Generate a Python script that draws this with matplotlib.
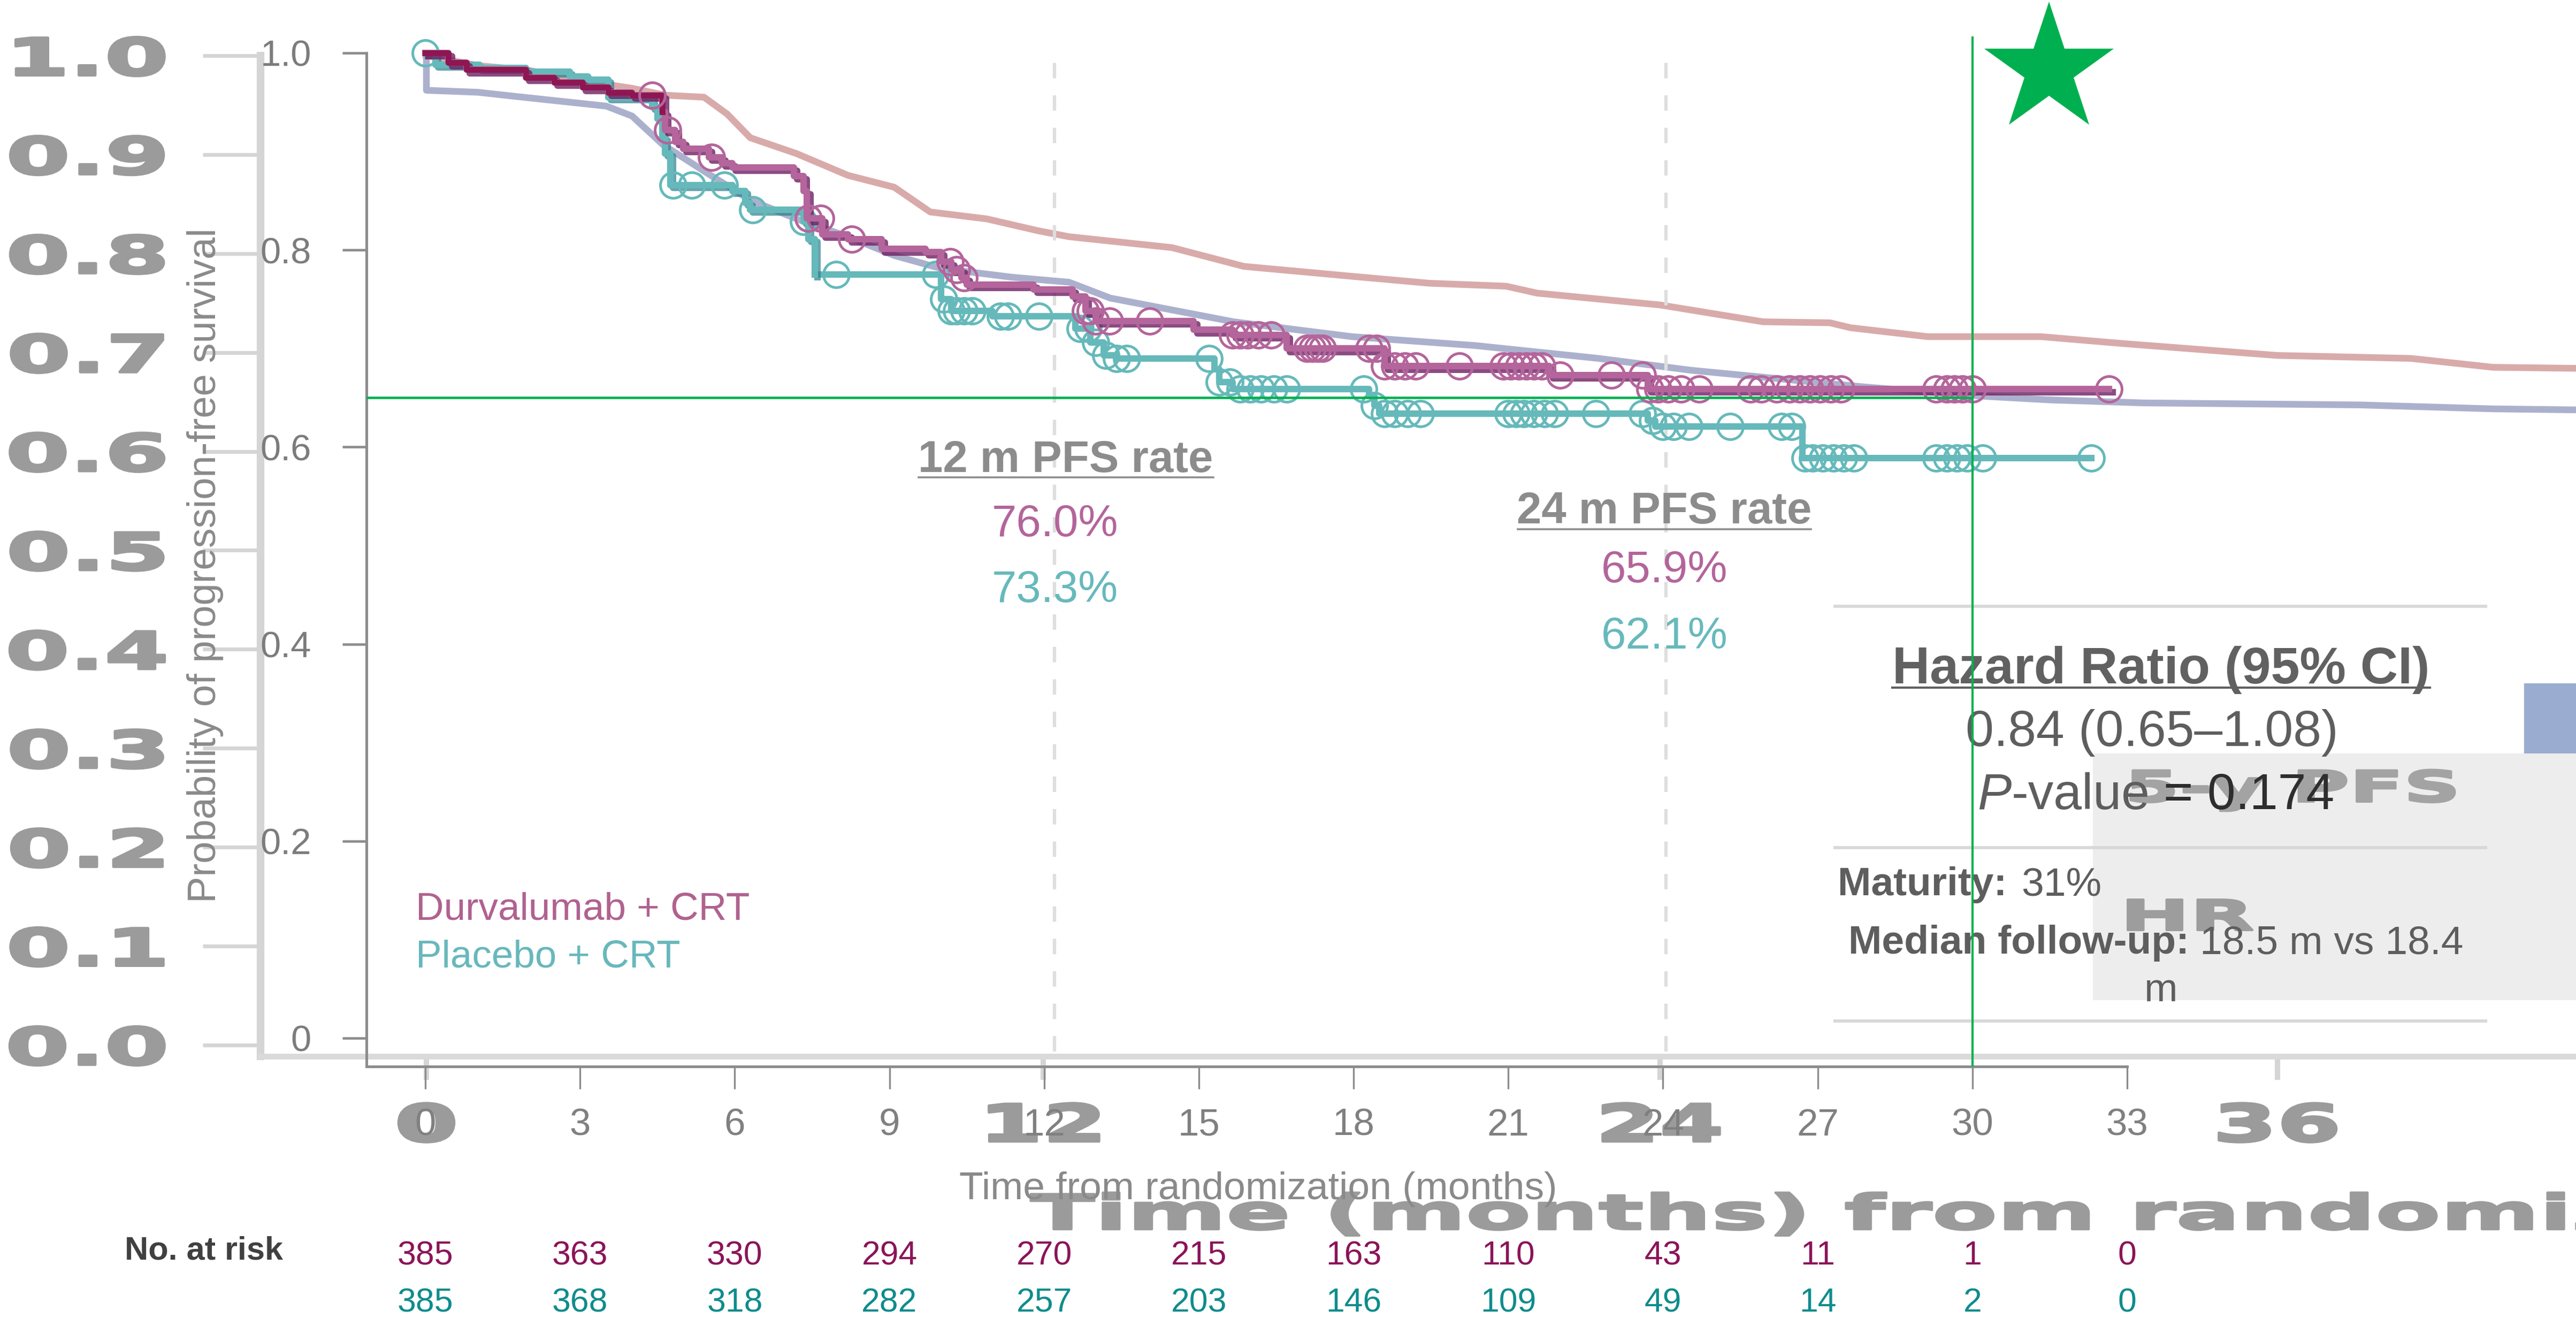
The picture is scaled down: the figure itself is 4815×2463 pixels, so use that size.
import numpy as np
import matplotlib
matplotlib.use("Agg")
import matplotlib.pyplot as plt
from matplotlib.lines import Line2D
from matplotlib.patches import Rectangle
from matplotlib.patheffects import AbstractPathEffect, SimpleLineShadow, Normal
from matplotlib.transforms import Affine2D, blended_transform_factory

W, H, DPI = 4815, 2463, 300

# Kaplan-Meier steps: time (months) and survival level after each step
dur_t = [0, 0.45, 0.8, 1.95, 2.5, 3.05, 3.55, 4.0, 4.6, 4.65, 4.85, 5.0, 5.5, 5.75,
         5.95, 7.15, 7.33, 7.4, 7.7, 8.2, 8.85, 9.7, 10.0, 10.2, 10.4, 10.5, 11.8,
         12.55, 12.8, 13.0, 14.9, 15.65, 16.7, 18.6, 21.8, 23.7, 32.65]
dur_s = [1.0, 0.990, 0.983, 0.975, 0.970, 0.965, 0.960, 0.957, 0.940, 0.922, 0.910,
         0.903, 0.894, 0.888, 0.884, 0.875, 0.860, 0.832, 0.816, 0.811, 0.801, 0.798,
         0.788, 0.780, 0.772, 0.765, 0.760, 0.753, 0.738, 0.728, 0.719, 0.714, 0.700,
         0.682, 0.673, 0.659, 0.659]
pla_t = [0, 0.2, 1.05, 1.95, 2.8, 3.15, 3.55, 4.4, 4.5, 4.6, 4.65, 4.75, 5.95, 6.2,
         6.3, 7.33, 7.43, 7.55, 10.0, 10.2, 11.0, 12.6, 12.9, 13.15, 13.4, 15.3, 15.4,
         15.65, 18.3, 18.4, 18.5, 23.7, 23.85, 26.7, 32.3]
pla_s = [1.0, 0.988, 0.985, 0.981, 0.976, 0.973, 0.955, 0.945, 0.933, 0.914, 0.898,
         0.866, 0.860, 0.848, 0.841, 0.829, 0.811, 0.775, 0.750, 0.738, 0.733, 0.720,
         0.706, 0.693, 0.690, 0.679, 0.666, 0.659, 0.652, 0.642, 0.634, 0.627, 0.621,
         0.589, 0.589]

# censoring times
dur_cens = [4.4, 4.7, 5.55, 7.43, 7.67, 8.27, 10.18, 10.3, 10.45, 12.8, 12.9, 13.0,
            13.27, 14.05, 15.65, 15.8, 15.95, 16.15, 16.4, 17.1, 17.2, 17.3, 17.4,
            18.3, 18.45, 18.6, 18.8, 19.0, 19.2, 20.05, 20.9, 21.05, 21.2, 21.35,
            21.5, 21.65, 22.0, 23.0, 23.6, 23.75, 23.9, 24.1, 24.35, 24.7, 25.7,
            25.9, 26.2, 26.45, 26.65, 26.85, 27.05, 27.25, 27.45, 29.3, 29.5, 29.65,
            29.8, 30.0, 32.65]
pla_cens = [0.0, 4.8, 5.17, 5.8, 6.35, 7.33, 7.97, 9.9, 10.05, 10.2, 10.3, 10.45,
            10.6, 11.15, 11.3, 11.9, 12.7, 12.85, 13.0, 13.2, 13.4, 13.6, 15.2, 15.4,
            15.6, 15.8, 16.0, 16.2, 16.45, 16.7, 18.2, 18.4, 18.6, 18.8, 19.05, 19.3,
            21.0, 21.15, 21.3, 21.5, 21.7, 21.9, 22.7, 23.6, 23.8, 24.0, 24.2, 24.5,
            25.3, 26.3, 26.5, 26.75, 26.9, 27.1, 27.3, 27.5, 27.7, 29.3, 29.5, 29.7,
            29.9, 30.2, 32.3]

months = list(range(0, 34, 3))
dur_risk = [385, 363, 330, 294, 270, 215, 163, 110, 43, 11, 1, 0]
pla_risk = [385, 368, 318, 282, 257, 203, 146, 109, 49, 14, 2, 0]

rate_12 = (76.0, 73.3)
rate_24 = (65.9, 62.1)
hr_label = "0.84 (0.65\u20131.08)"
p_value = "0.174"
maturity = "31%"
follow_up = ("18.5 m vs 18.4", "m")

# curves of the longer-term analysis underneath
old_a_t = [0, 1, 2, 3, 4, 4.65, 5.4, 5.85, 6.3, 7.2, 8.2, 9.1, 9.8, 10.9, 11.9, 12.5,
           14.5, 15.9, 18.0, 19.5, 21.0, 21.6, 24.0, 26.0, 27.3, 27.7, 29.2, 31.4,
           33.0, 36.0, 38.6, 40.2, 41.8]
old_a_s = [1.0, 0.99, 0.985, 0.975, 0.967, 0.96, 0.958, 0.941, 0.917, 0.901, 0.879,
           0.867, 0.842, 0.835, 0.823, 0.817, 0.806, 0.787, 0.777, 0.770, 0.767,
           0.760, 0.748, 0.731, 0.730, 0.725, 0.716, 0.716, 0.709, 0.697, 0.694,
           0.685, 0.684]
old_b_t = [0, 0, 1.0, 1.7, 2.6, 3.5, 4.0, 4.6, 5.5, 6.3, 7.2, 8.2, 9.1, 10.0, 11.4,
           12.5, 13.3, 15.7, 18.0, 20.4, 22.8, 24.6, 26.0, 28.0, 30.2, 31.6, 33.4,
           37.6, 40.2, 41.8]
old_b_s = [1.0, 0.965, 0.963, 0.959, 0.954, 0.949, 0.939, 0.91, 0.88, 0.854, 0.835,
           0.817, 0.798, 0.785, 0.776, 0.771, 0.755, 0.731, 0.716, 0.707, 0.694,
           0.682, 0.675, 0.665, 0.656, 0.652, 0.649, 0.647, 0.643, 0.642]
old_yticks = [round(0.1 * i, 1) for i in range(11)]
old_xticks = [0, 12, 24, 36]
old_guides = [12.22, 24.11]

ref_level = 0.65
ref_month = 30
star_xy = (31.49, 0.983)

SANS = "Liberation Sans"
WIDE = "DejaVu Sans"
DUR, DUR_DARK, DUR_SHADE = "#b4659b", "#8e1652", "#6d1f63"
PLA, PLA_SHADE = "#66b9ba", "#2a7f8e"
GREEN = "#00b050"
AXIS = "#8c8c8c"
GHOST = "#9b9b9b"
GHOST_LINE = "#d5d5d5"


class Stretch(AbstractPathEffect):
    """Scale glyph outlines horizontally about their left, centre or right edge."""

    def __init__(self, sx, anchor="center", bold=0.0):
        super().__init__()
        self.sx = sx
        self.anchor = anchor
        self.bold = bold

    def draw_path(self, renderer, gc, tpath, affine, rgbFace=None):
        ext = tpath.get_extents(affine)
        if self.anchor == "left":
            x0 = ext.x0
        elif self.anchor == "right":
            x0 = ext.x1
        else:
            x0 = 0.5 * (ext.x0 + ext.x1)
        affine = affine + Affine2D().translate(-x0, 0).scale(self.sx, 1).translate(x0, 0)
        gc0 = renderer.new_gc()
        gc0.copy_properties(gc)
        if self.bold and rgbFace is not None:
            gc0.set_linewidth(self.bold)
            gc0.set_foreground(rgbFace)
        renderer.draw_path(gc0, tpath, affine, rgbFace)
        gc0.restore()


def fx(px):
    return px / W


def fy(py):
    return 1 - py / H


def level_at(times, levels, t):
    idx = np.searchsorted(times, t, side="right") - 1
    return np.asarray(levels)[idx]


fig = plt.figure(figsize=(W / DPI, H / DPI), dpi=DPI)


def put(x, y, s, size, color, weight="normal", ha="left", family=SANS,
        style="normal", stretch=None, zorder=3):
    t = fig.text(fx(x), fy(y), s, fontsize=size, color=color, fontweight=weight,
                 ha=ha, va="baseline", family=family, fontstyle=style, zorder=zorder)
    if stretch:
        t.set_path_effects([Stretch(stretch, ha, bold=1.0)])
    return t


def underline(x0, x1, y, color, lw):
    fig.add_artist(Line2D([fx(x0), fx(x1)], [fy(y), fy(y)], color=color, lw=lw,
                          transform=fig.transFigure, zorder=3))


# ---------------- background chart ----------------
ax_bg = fig.add_axes([fx(487), fy(1974), (W - 487) / W, (1974 - 104) / H])
ax_bg.patch.set_visible(False)
ax_bg.set_xlim(-3.226, 41.81)
ax_bg.set_ylim(-0.0114, 1.0)
for side in ("top", "right"):
    ax_bg.spines[side].set_visible(False)
ax_bg.spines["left"].set(color=GHOST_LINE, linewidth=3.4)
ax_bg.spines["bottom"].set(color="#dadada", linewidth=2.6)
ax_bg.set_yticks(old_yticks)
ax_bg.set_yticklabels([f"{v:.1f}" for v in old_yticks], fontfamily=WIDE,
                      fontweight="bold", fontsize=23, color=GHOST)
ax_bg.tick_params(axis="y", length=26, width=1.7, color=GHOST_LINE, pad=16)
ax_bg.set_xticks(old_xticks)
ax_bg.set_xticklabels([str(v) for v in old_xticks], fontfamily=WIDE,
                      fontweight="bold", fontsize=23, color=GHOST)
ax_bg.tick_params(axis="x", length=10.6, width=2.4, color=GHOST_LINE, pad=10)
for lab in ax_bg.get_yticklabels():
    lab.set_path_effects([Stretch(1.8, "right", bold=1.2)])
for lab in ax_bg.get_xticklabels():
    lab.set_path_effects([Stretch(1.8, "center", bold=1.2)])

ax_bg.plot(old_a_t, old_a_s, color="#d8abaa", lw=3.0, solid_joinstyle="round")
ax_bg.plot(old_b_t, old_b_s, color="#abb1cd", lw=3.0, solid_joinstyle="round")
ax_bg.vlines(old_guides, -0.0065, 0.993, colors="#dedede", lw=1.5,
             linestyles=(0, (4.6, 5.1)))

put(1926, 2297, "Time (months) from randomization", 21.6, GHOST, "bold",
    family=WIDE, stretch=1.97, zorder=2.5)

# summary panel pieces
fig.add_artist(Rectangle((fx(3912), fy(1869)), (W - 3912) / W, (1869 - 1408) / H,
                         transform=fig.transFigure, color="#ededed", lw=0, zorder=1))
fig.add_artist(Rectangle((fx(4718), fy(1408)), (W - 4718) / W, (1408 - 1277) / H,
                         transform=fig.transFigure, color="#9aadd0", lw=0, zorder=1))
for y in (1133, 1584, 1908):
    fig.add_artist(Line2D([fx(3430), fx(4646)], [fy(y), fy(y)], color="#d8d8d8",
                          lw=1.4, transform=fig.transFigure, zorder=2))
put(3976, 1498, "5-y PFS", 19.2, "#a3a3a3", "bold", family=WIDE, stretch=1.85,
    zorder=2.5)
put(3970, 1738, "HR", 18.7, "#9d9d9d", "bold", family=WIDE, stretch=2.0, zorder=2.5)

# ---------------- main Kaplan-Meier chart ----------------
ax = fig.add_axes([fx(685), fy(1993), (3976 - 685) / W, (1993 - 99) / H])
ax.set_zorder(5)
ax.patch.set_visible(False)
ax.set_xlim(-1.141, 33)
ax.set_ylim(-0.0288, 1.0)
for side in ("top", "right"):
    ax.spines[side].set_visible(False)
for side in ("left", "bottom"):
    ax.spines[side].set(color=AXIS, linewidth=1.2)

ax.set_xticks(months)
ax.set_xticklabels([str(m) for m in months], fontfamily=SANS, fontsize=17,
                   color="#808080")
ax.tick_params(axis="x", length=10, width=0.8, color=AXIS, pad=8.6)
yt = [0, 0.2, 0.4, 0.6, 0.8, 1.0]
ax.set_yticks(yt)
ax.set_yticklabels(["0", "0.2", "0.4", "0.6", "0.8", "1.0"], fontfamily=SANS,
                   fontsize=16.5, color="#7c7c7c")
ax.tick_params(axis="y", length=10.8, width=1.1, color=AXIS, pad=14)

# placebo arm
ax.step(pla_t, pla_s, where="post", color=PLA, lw=2.9, clip_on=False, zorder=3)
early = np.asarray(pla_t) <= 7.6
ax.step(np.asarray(pla_t)[early], np.asarray(pla_s)[early], where="post",
        color=PLA, lw=2.9, clip_on=False, zorder=3.1,
        path_effects=[SimpleLineShadow(offset=(1.2, -1.2), shadow_color=PLA_SHADE,
                                       alpha=0.7), Normal()])
ax.plot(pla_cens, level_at(pla_t, pla_s, pla_cens), "o", mfc="none", mec=PLA,
        ms=11.5, mew=1.2, clip_on=False, zorder=3.2)

# durvalumab arm
ax.step(dur_t, dur_s, where="post", color=DUR, lw=2.9, clip_on=False, zorder=4,
        path_effects=[SimpleLineShadow(offset=(1.5, -1.5), shadow_color=DUR_SHADE,
                                       alpha=0.8), Normal()])
first = np.asarray(dur_t) <= 4.6
ax.step(np.asarray(dur_t)[first], np.asarray(dur_s)[first], where="post",
        color=DUR_DARK, lw=2.6, clip_on=False, zorder=4.1)
ax.plot(dur_cens, level_at(dur_t, dur_s, dur_cens), "o", mfc="none", mec=DUR,
        ms=11.5, mew=1.2, clip_on=False, zorder=4.2)

# reference lines and star
ax.hlines(ref_level, -1.141, ref_month, colors=GREEN, lw=1.1, zorder=5)
ax.vlines(ref_month, -0.0288, 1.0168, colors=GREEN, lw=1.0, clip_on=False, zorder=5)
ax.plot(*star_xy, marker="*", ms=61, color=GREEN, mew=0, clip_on=False, zorder=5)

# number at risk
row = blended_transform_factory(ax.transData, fig.transFigure)
for m, n_d, n_p in zip(months, dur_risk, pla_risk):
    ax.text(m, fy(2363), str(n_d), transform=row, ha="center", va="baseline",
            fontsize=15, color="#8b1458", family=SANS, clip_on=False)
    ax.text(m, fy(2451), str(n_p), transform=row, ha="center", va="baseline",
            fontsize=15, color="#0f8c8c", family=SANS, clip_on=False)
put(233, 2353, "No. at risk", 14.7, "#404040", "bold")

# axis titles
put(2352, 2241, "Time from randomization (months)", 17.6, "#8a8a8a", ha="center")
fig.text(fx(384), fy(1057), "Probability of progression-free survival", rotation=90,
         ha="center", va="center", fontsize=17.8, color="#8a8a8a", family=SANS)

# legend
put(777, 1718, "Durvalumab + CRT", 17.5, "#b0628f")
put(777, 1807, "Placebo + CRT", 17.5, "#68b8bb")

# landmark rates
put(1992, 882, "12 m PFS rate", 20, AXIS, "bold", ha="center")
underline(1717, 2268, 892, AXIS, 0.85)
put(1972, 1002, f"{rate_12[0]:.1f}%", 20, "#b3659a", ha="center")
put(1972, 1125, f"{rate_12[1]:.1f}%", 20, "#67b9bc", ha="center")
put(3111, 978, "24 m PFS rate", 20, AXIS, "bold", ha="center")
underline(2837, 3385, 989, AXIS, 0.85)
put(3111, 1088, f"{rate_24[0]:.1f}%", 20, "#b3659a", ha="center")
put(3111, 1212, f"{rate_24[1]:.1f}%", 20, "#67b9bc", ha="center")

# hazard ratio block
HR_C = "#5e5e5e"
put(4039, 1277, "Hazard Ratio (95% CI)", 23.3, "#616161", "bold", ha="center")
underline(3537, 4542, 1285, "#616161", 1.0)
put(4022, 1394, hr_label, 22.8, HR_C, ha="center")
put(3696, 1512, "P", 22.8, HR_C, style="italic")
put(3760, 1512, "-value", 22.8, HR_C)
put(4044, 1512, f"= {p_value}", 22.8, "#2e2e2e")
put(3435, 1673, "Maturity:", 18, HR_C, "bold")
put(3778, 1673, maturity, 18, HR_C)
put(3455, 1782, "Median follow-up:", 18, HR_C, "bold")
put(4112, 1782, follow_up[0], 18, HR_C)
put(4039, 1871, follow_up[1], 18, HR_C, ha="center")

fig.savefig("out.png", dpi=DPI, facecolor="white")
